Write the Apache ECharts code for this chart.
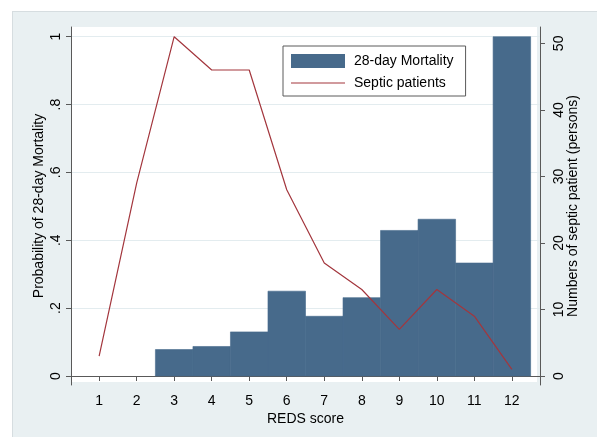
<!DOCTYPE html>
<html>
<head>
<meta charset="utf-8">
<script src="https://cdn.jsdelivr.net/npm/echarts@6/dist/echarts.min.js"></script>
<style>
  html, body { margin: 0; padding: 0; background: #ffffff; }
  #wrap { position: relative; width: 597px; height: 437px; overflow: hidden; }
  #panel {
    position: absolute; left: 12px; top: 11px; right: 0; bottom: 0;
    background: #e9f0f2; border-left: 1px solid #d6dde0; border-top: 1px solid #d6dde0;
  }
  #chart { position: absolute; left: 0; top: 0; width: 597px; height: 437px; }
</style>
</head>
<body>
<div id="wrap"><div id="panel"></div><div id="chart"></div></div>
<script>
// REDS score categories
const scores = [1, 2, 3, 4, 5, 6, 7, 8, 9, 10, 11, 12];
// Probability of 28-day mortality per score (left axis)
const mortality = [0, 0, 0.078, 0.087, 0.130, 0.250, 0.176, 0.231, 0.429, 0.462, 0.333, 1.0];
// Number of septic patients per score (right axis)
const patients = [3, 29, 51, 46, 46, 28, 17, 13, 7, 13, 9, 1];
// Tick values
const probTicks = [0, 0.2, 0.4, 0.6, 0.8, 1];
const countTicks = [0, 10, 20, 30, 40, 50];

const FONT = "'Liberation Sans', Arial, Helvetica, sans-serif";
const BAR = '#476a8b';
const LINE = '#a3363d';
const AXIS = '#595959';

const chart = echarts.init(document.getElementById('chart'), null, { renderer: 'canvas' });

// Stata-style probability labels: 0, .2, .4, ... , 1
function probLabel(v) {
  const tenths = Math.round(Number(v) * 10);
  if (tenths === 0) return '0';
  if (tenths === 10) return '1';
  return '.' + tenths;
}

const option = {
  animation: false,
  textStyle: { fontFamily: FONT },
  grid: [
    // axis frame, holds the data
    { left: 71, right: 57, top: 27, bottom: 52, containLabel: false },
    // white plot region behind it
    { left: 71, right: 60, top: 27, bottom: 55, show: true, backgroundColor: '#ffffff', borderWidth: 0, z: -1 }
  ],
  legend: {
    left: 283, top: 46, orient: 'vertical',
    itemWidth: 54, itemHeight: 14, itemGap: 8,
    padding: [8, 12, 6, 8],
    backgroundColor: '#ffffff', borderColor: '#5a5a5a', borderWidth: 1, borderRadius: 0,
    selectedMode: false,
    textStyle: { fontFamily: FONT, fontSize: 14, color: '#000', padding: [0, 0, 0, 4] },
    data: [
      { name: '28-day Mortality', icon: 'rect' },
      { name: 'Septic patients', icon: 'path://M0,0L54,0L54,1.2L0,1.2Z' }
    ]
  },
  xAxis: [
    {
      type: 'value', gridIndex: 0, min: 0.25, max: 12.75,
      name: 'REDS score', nameLocation: 'middle', nameGap: 27, nameMoveOverlap: false,
      nameTextStyle: { fontFamily: FONT, fontSize: 14, color: '#000' },
      axisLine: { show: true, lineStyle: { color: AXIS, width: 1 } },
      axisTick: { show: true, length: 5, customValues: scores, lineStyle: { color: AXIS } },
      axisLabel: { customValues: scores, margin: 9, fontFamily: FONT, fontSize: 14, color: '#000' },
      splitLine: { show: false }
    },
    { type: 'value', gridIndex: 1, show: false, min: 0, max: 1 }
  ],
  yAxis: [
    {
      type: 'value', gridIndex: 0, position: 'left', min: -0.0265, max: 1.0286,
      name: 'Probability of 28-day Mortality', nameLocation: 'middle', nameGap: 25, nameRotate: 90,
      nameMoveOverlap: false,
      nameTextStyle: { fontFamily: FONT, fontSize: 14, color: '#000' },
      axisLine: { show: true, lineStyle: { color: AXIS, width: 1 } },
      axisTick: { show: true, length: 5, customValues: probTicks, lineStyle: { color: AXIS } },
      axisLabel: { customValues: probTicks, rotate: 90, margin: 8, fontFamily: FONT, fontSize: 14, color: '#000', formatter: probLabel },
      splitLine: { show: true, lineStyle: { color: '#e3ecef', width: 1 } }
    },
    {
      type: 'value', gridIndex: 0, position: 'right', min: -1.35, max: 52.46,
      name: 'Numbers of septic patient (persons)', nameLocation: 'middle', nameGap: 26, nameRotate: 90,
      nameMoveOverlap: false,
      nameTextStyle: { fontFamily: FONT, fontSize: 14, color: '#000' },
      axisLine: { show: true, lineStyle: { color: AXIS, width: 1 } },
      axisTick: { show: true, length: 5, customValues: countTicks, lineStyle: { color: AXIS } },
      axisLabel: { customValues: countTicks, rotate: 90, margin: 12, fontFamily: FONT, fontSize: 14, color: '#000' },
      splitLine: { show: false }
    },
    { type: 'value', gridIndex: 1, show: false, min: 0, max: 1 }
  ],
  series: [
    {
      name: '28-day Mortality',
      type: 'custom',
      xAxisIndex: 0, yAxisIndex: 0,
      itemStyle: { color: BAR },
      encode: { x: 0, y: 1 },
      data: scores.map((s, i) => [s, mortality[i]]),
      renderItem: function (params, api) {
        const x = api.value(0);
        const v = api.value(1);
        if (!v) return null;
        const topLeft = api.coord([x - 0.5, v]);
        const bottomRight = api.coord([x + 0.5, 0]);
        return {
          type: 'rect',
          shape: {
            x: topLeft[0], y: topLeft[1],
            width: bottomRight[0] - topLeft[0],
            height: bottomRight[1] - topLeft[1]
          },
          style: { fill: BAR, stroke: BAR, lineWidth: 0.6 }
        };
      }
    },
    {
      name: 'Septic patients',
      type: 'line',
      xAxisIndex: 0, yAxisIndex: 1,
      symbol: 'none',
      itemStyle: { color: LINE },
      lineStyle: { color: LINE, width: 1.2 },
      data: scores.map((s, i) => [s, patients[i]]),
      z: 3
    }
  ]
};

chart.setOption(option);
</script>
</body>
</html>
